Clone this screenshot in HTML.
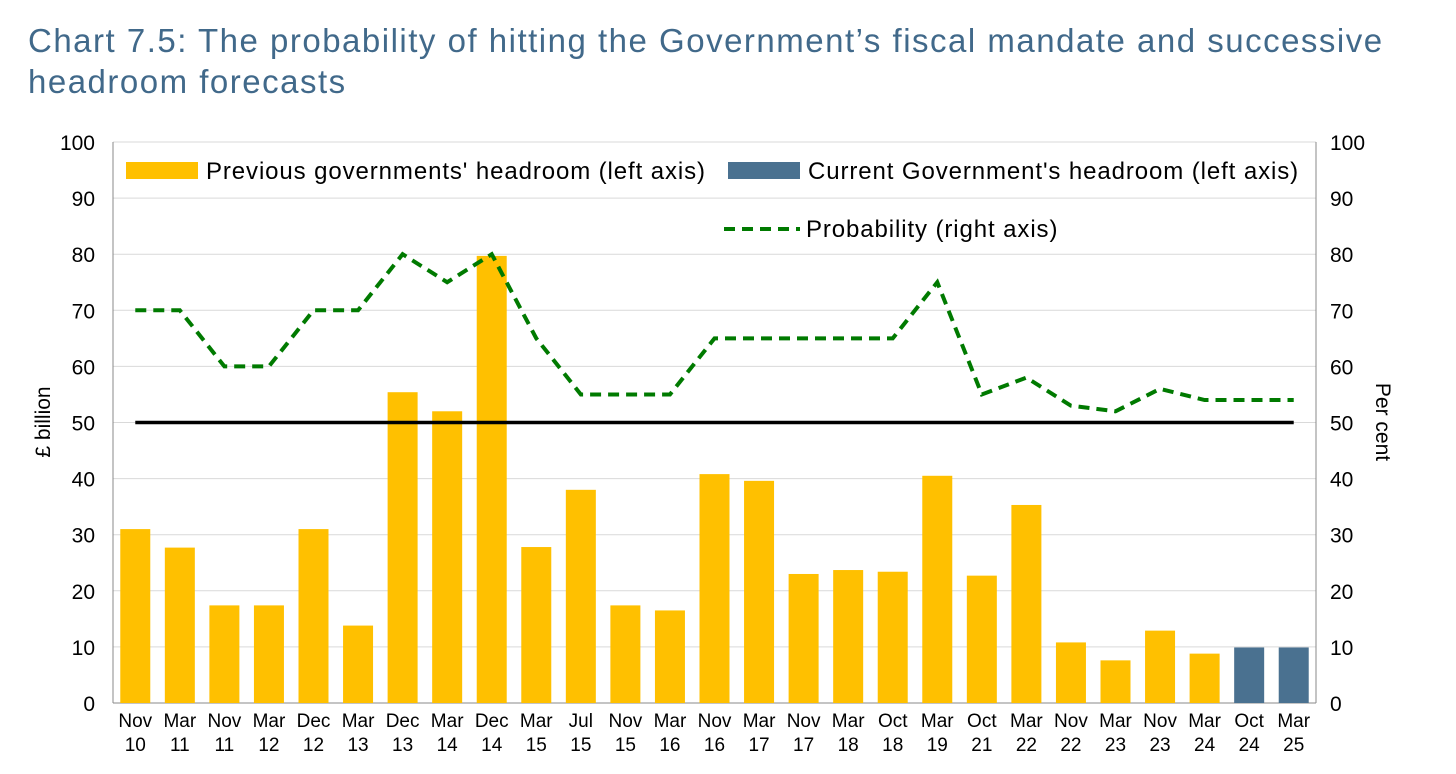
<!DOCTYPE html>
<html><head><meta charset="utf-8"><style>
body{margin:0;background:#fff;width:1456px;height:774px;overflow:hidden;font-family:"Liberation Sans",sans-serif}
.title{position:absolute;left:28px;top:20px;font-size:33px;line-height:41px;color:#41698a;letter-spacing:1.5px}
</style></head><body>
<div class="title">Chart 7.5: The probability of hitting the Government’s fiscal mandate and successive<br>headroom forecasts</div>
<svg id="c" width="1456" height="774" style="position:absolute;left:0;top:0"></svg>
<script>
const categories=[["Nov","10"],["Mar","11"],["Nov","11"],["Mar","12"],["Dec","12"],["Mar","13"],["Dec","13"],["Mar","14"],["Dec","14"],["Mar","15"],["Jul","15"],["Nov","15"],["Mar","16"],["Nov","16"],["Mar","17"],["Nov","17"],["Mar","18"],["Oct","18"],["Mar","19"],["Oct","21"],["Mar","22"],["Nov","22"],["Mar","23"],["Nov","23"],["Mar","24"],["Oct","24"],["Mar","25"]];
const headroom=[31,27.7,17.4,17.4,31,13.8,55.4,52,79.7,27.8,38,17.4,16.5,40.8,39.6,23,23.7,23.4,40.5,22.7,35.3,10.8,7.6,12.9,8.8,9.9,9.9];
const current=[0,0,0,0,0,0,0,0,0,0,0,0,0,0,0,0,0,0,0,0,0,0,0,0,0,1,1];
const probability=[70,70,60,60,70,70,80,75,80,65,55,55,55,65,65,65,65,65,75,55,58,53,52,56,54,54,54];
const ticks=[0,10,20,30,40,50,60,70,80,90,100];
const svg=document.getElementById('c');const NS='http://www.w3.org/2000/svg';
const L=113,R=1316,T=142,B=703;
const y=v=>B-(v/100)*(B-T);
const bw=(R-L)/categories.length;
const x=i=>L+bw*(i+0.5);
function mk(t,a,p){const e=document.createElementNS(NS,t);for(const k in a)e.setAttribute(k,a[k]);(p||svg).appendChild(e);return e;}
ticks.forEach(t=>{
 const g=mk('line',{x1:L,x2:R,y1:y(t),y2:y(t),stroke:t==0?'#888':'#d9d9d9','stroke-width':1});
 
 
 const a=mk('text',{x:95,y:y(t)+8,'text-anchor':'end','font-size':21,fill:'#000'});a.textContent=t;
 
 
 const b=mk('text',{x:1330,y:y(t)+8,'font-size':21,fill:'#000'});b.textContent=t;
 
 
});
mk('line',{x1:L,x2:L,y1:T,y2:B,stroke:'#888'});mk('line',{x1:R,x2:R,y1:T,y2:B,stroke:'#888'});
headroom.forEach((v,i)=>{
 const r=mk('rect',{x:x(i)-15,y:y(v),width:30,height:B-y(v),fill:current[i]?'#4a7190':'#ffc000'});
 
 
 const t=mk('text',{x:x(i),y:727,'text-anchor':'middle','font-size':19});t.textContent=categories[i][0];
 
 
 const t2=mk('text',{x:x(i),y:751,'text-anchor':'middle','font-size':19});t2.textContent=categories[i][1];
 
 
});
const ml=mk('line',{x1:x(0),x2:x(categories.length-1),y1:y(50),y2:y(50),stroke:'#000','stroke-width':3.5});


const pl=mk('polyline',{points:probability.map((v,i)=>x(i)+','+y(v)).join(' '),fill:'none',stroke:'#007a00','stroke-width':4,'stroke-dasharray':'11,7'});


function lbl(txt,xx,yy,rot,name){const t=mk('text',{x:xx,y:yy,'font-size':21,'text-anchor':'middle',transform:`rotate(${rot} ${xx} ${yy})`});t.textContent=txt;
 
 }
lbl('£ billion',50,422,-90,'left-axis-title');lbl('Per cent',1376,422,90,'right-axis-title');
function leg(sw,tx,ty,txt,name){const g=mk('g',{});
 
 sw(g);const t=mk('text',{x:tx,y:ty,'font-size':24,'letter-spacing':'0.9'},g);t.textContent=txt;}
leg(g=>mk('rect',{x:126,y:162,width:72,height:17,fill:'#ffc000'},g),206,179,"Previous governments' headroom (left axis)",'legend-previous');
leg(g=>mk('rect',{x:728,y:162,width:72,height:17,fill:'#4a7190'},g),808,179,"Current Government's headroom (left axis)",'legend-current');
leg(g=>mk('line',{x1:724,x2:800,y1:229,y2:229,stroke:'#007a00','stroke-width':4,'stroke-dasharray':'11,7'},g),806,237,"Probability (right axis)",'legend-probability');
</script>
</body></html>
